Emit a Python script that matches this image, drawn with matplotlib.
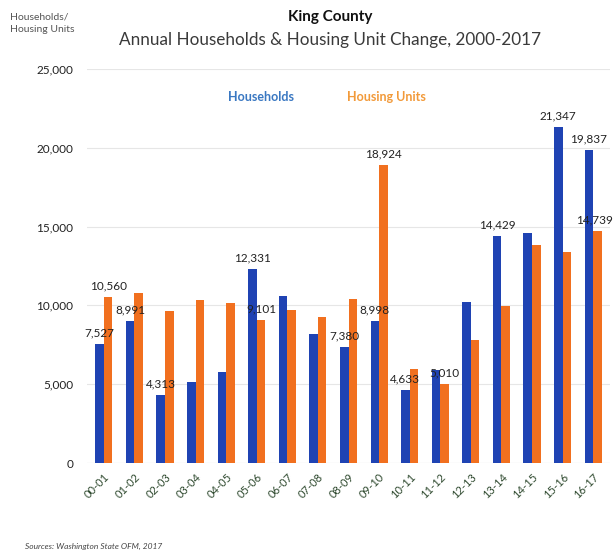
import matplotlib
matplotlib.use("Agg")
import matplotlib.pyplot as plt
import numpy as np

plt.rcParams['font.family'] = ['Lato', 'DejaVu Sans']

periods = ["00-01", "01-02", "02-03", "03-04", "04-05", "05-06", "06-07", "07-08", "08-09",
           "09-10", "10-11", "11-12", "12-13", "13-14", "14-15", "15-16", "16-17"]
households = [7527, 8991, 4313, 5140, 5770, 12331, 10570, 8205, 7380,
              8998, 4633, 5880, 10190, 14429, 14585, 21347, 19837]
housing_units = [10560, 10800, 9640, 10360, 10170, 9101, 9730, 9280, 10380,
                 18924, 5940, 5010, 7780, 9950, 13825, 13360, 14739]

# which bars carry a value label
hh_labeled = {"00-01", "01-02", "02-03", "05-06", "08-09", "09-10", "10-11", "13-14", "15-16", "16-17"}
hu_labeled = {"00-01", "05-06", "09-10", "11-12", "16-17"}

y_ticks = [0, 5000, 10000, 15000, 20000, 25000]

blue = "#1f43b3"
orange = "#f1701f"

fig = plt.figure(figsize=(6.13, 5.55), dpi=100)
ax = fig.add_axes([87 / 613, 92 / 555, 523 / 613, 394 / 555])

x = np.arange(len(periods))
w = 0.28
ax.bar(x - w / 2, households, width=w, color=blue, zorder=3)
ax.bar(x + w / 2, housing_units, width=w, color=orange, zorder=3)

for i, p in enumerate(periods):
    if p in hh_labeled:
        ax.text(x[i] - w / 2, households[i] + 350, f"{households[i]:,}", ha="center", va="bottom",
                fontsize=8.5, color="#222222", zorder=4)
    if p in hu_labeled:
        xpos = x[i] + w / 2
        ha = "center"
        if i == len(periods) - 1:
            # keep the last label inside the figure
            xpos = x[i] + w / 2 + 0.52
            ha = "right"
        ax.text(xpos, housing_units[i] + 350, f"{housing_units[i]:,}", ha=ha, va="bottom",
                fontsize=8.5, color="#222222", zorder=4, clip_on=False)

ax.set_xlim(-0.55, 16.55)
ax.set_ylim(0, 25000)
ax.set_yticks(y_ticks)
ax.set_yticklabels([f"{v:,}" for v in y_ticks], fontsize=8.5, color="#222222")
ax.set_xticks(x)
ax.set_xticklabels(periods, rotation=45, ha="right", rotation_mode="anchor",
                   fontsize=8, color="#2f4a2f")
ax.tick_params(axis="both", length=0)
ax.tick_params(axis="y", pad=10)
ax.tick_params(axis="x", pad=6)
ax.grid(axis="y", color="#e6e6e6", linewidth=0.8, zorder=0)
for s in ax.spines.values():
    s.set_visible(False)
ax.axhline(0, color="#dddddd", linewidth=0.8, zorder=2)

fig.text(330 / 613, 1 - 17 / 555, "King County", ha="center", va="center",
         fontsize=11, fontweight="bold", color="#111111")
fig.text(330 / 613, 1 - 40 / 555, "Annual Households & Housing Unit Change, 2000-2017",
         ha="center", va="center", fontsize=12.3, color="#3a3a3a")
fig.text(10 / 613, 1 - 23 / 555, "Households/\nHousing Units", ha="left", va="center",
         fontsize=7.5, color="#555555", linespacing=1.5)

fig.text(261 / 613, 1 - 97 / 555, "Households", ha="center", va="center",
         fontsize=9, fontweight="bold", color="#3a78c2")
fig.text(386 / 613, 1 - 97 / 555, "Housing Units", ha="center", va="center",
         fontsize=9, fontweight="bold", color="#f29a3a")

fig.text(25 / 613, 1 - 546 / 555, "Sources: Washington State OFM, 2017", ha="left", va="center",
         fontsize=6, style="italic", color="#444444")

fig.savefig("out.png", dpi=100)
